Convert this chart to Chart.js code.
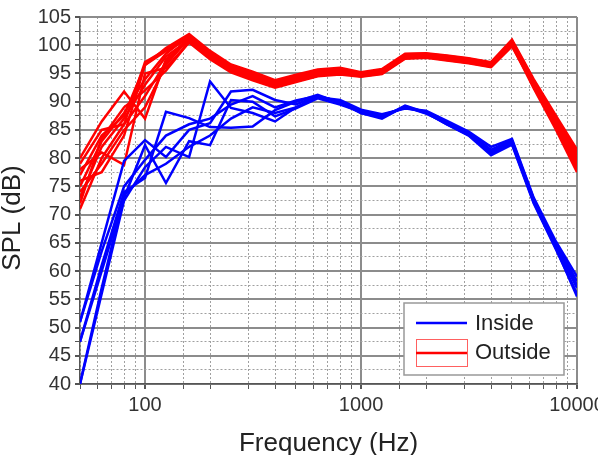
<!DOCTYPE html>
<html>
<head>
<meta charset="utf-8">
<script src="https://cdn.jsdelivr.net/npm/chart.js@4/dist/chart.umd.min.js"></script>
<style>
  body { margin: 0; background: #fff; }
  #wrap { width: 598px; height: 455px; }
</style>
</head>
<body>
<div id="wrap"><canvas id="spl" width="598" height="455"></canvas></div>
<script>
// third-octave band centres (Hz)
const freqs = [50, 63, 80, 100, 125, 160, 200, 250, 315, 400, 500, 630, 800, 1000, 1250, 1600, 2000, 2500, 3150, 4000, 5000, 6300, 8000, 10000];

// SPL inside, one row per run
const insideRuns = [
  [51, 65, 79.5, 83.2, 80.2, 85, 86.2, 91.8, 92.1, 90.3, 89.5, 91, 90, 88.3, 87.5, 89, 88.2, 86.3, 84.3, 81.2, 83, 72.5, 64.5, 57.5],
  [47.5, 61, 74, 76.5, 88.2, 87.1, 85.5, 85.4, 85.6, 88.5, 90, 91.2, 89.8, 88, 87, 89.2, 88, 86, 84, 80.5, 82.4, 72, 63.8, 56],
  [40, 56, 72.5, 78.4, 82, 80.2, 93.6, 88.9, 88, 86.5, 89, 90.8, 90.3, 88.6, 87.8, 88.8, 88.4, 86.6, 84.7, 82, 83.4, 73, 65.2, 59],
  [47.5, 60, 73, 82.3, 75.6, 83, 82.3, 90.3, 90, 87.4, 88.8, 90.6, 89.5, 88.2, 87.3, 89.1, 87.9, 86.2, 84.2, 80.8, 82.6, 72.2, 64, 55.5],
  [51, 63.5, 75, 79.7, 84, 86, 87, 89.5, 91, 89, 90.2, 91, 90, 88.4, 87.6, 88.9, 88.2, 86.4, 84.5, 81.5, 83.2, 72.8, 64.8, 58.2],
  [40, 57, 73.5, 77, 79, 82, 84, 87, 89, 88, 89, 90.8, 90.1, 88, 87.2, 89.3, 88.1, 86, 84.1, 81, 82.8, 72.4, 64.2, 57]
];

// SPL outside, one row per run
const outsideRuns = [
  [71, 80, 86, 91, 97, 101.5, 98.5, 96, 94.5, 93, 94, 95, 95.5, 94.8, 95.3, 98, 98.2, 97.8, 97.3, 96.5, 100.5, 93, 86, 78.5],
  [73, 82, 87, 93, 98, 101, 98, 95.5, 94, 92.8, 93.8, 94.8, 95, 94.5, 95, 97.8, 98, 97.5, 97, 96.3, 100.2, 93.2, 86.5, 79.5],
  [75, 83, 88, 94, 98.5, 101.8, 98.8, 96.3, 95, 93.5, 94.5, 95.5, 95.8, 95, 95.6, 98.3, 98.4, 98, 97.5, 96.8, 100.8, 93.8, 87, 80],
  [77, 84, 87.5, 96.5, 99, 101.2, 98.2, 95.8, 94.3, 93.2, 94.2, 95.2, 95.2, 94.7, 95.2, 98.1, 98.1, 97.7, 97.2, 96.6, 100.4, 92.6, 85.5, 78],
  [80, 86.5, 91.8, 87, 97.5, 100.8, 97.8, 95.5, 94, 92.6, 93.6, 94.6, 95.6, 94.6, 95.1, 97.7, 97.9, 97.4, 96.9, 96.2, 100, 92.4, 85, 77.5],
  [78, 81, 78.8, 95, 96, 100.5, 97.5, 95.2, 93.8, 92.5, 93.5, 94.5, 94.8, 94.4, 94.9, 97.6, 97.8, 97.3, 96.8, 96.1, 99.8, 92.8, 86, 79],
  [76, 77.5, 84, 96.5, 99.5, 102, 99, 96.6, 95.3, 93.8, 94.8, 95.7, 96, 95.2, 95.8, 98.5, 98.6, 98.2, 97.7, 97, 101, 94, 87.5, 81.5],
  [74, 79, 85, 89, 96.5, 101.3, 98.4, 96.1, 94.7, 93.3, 94.3, 95.3, 95.3, 94.9, 95.4, 98.2, 98.3, 97.9, 97.4, 96.7, 100.6, 93.5, 86.8, 80.5],
  [72, 83.5, 89, 92, 95.5, 100.6, 97.7, 95.6, 94.2, 93, 94, 95.1, 95.1, 94.6, 95.2, 97.9, 98, 97.6, 97.1, 96.4, 100.3, 93.1, 86.2, 79.2],
  [79, 85, 86, 97, 99.2, 101.6, 98.6, 96.2, 94.8, 93.6, 94.6, 95.4, 95.7, 95.1, 95.5, 98.4, 98.5, 98.1, 97.6, 96.9, 100.7, 93.6, 87.2, 81]
];

const xTickLabels = [100, 1000, 10000];

const toPoints = row => row.map((v, i) => ({x: freqs[i], y: v}));

const datasets = [];
insideRuns.forEach(r => datasets.push({
  label: 'Inside', data: toPoints(r),
  borderColor: '#0000ff', borderWidth: 2.5, pointRadius: 0, tension: 0
}));
outsideRuns.forEach(r => datasets.push({
  label: 'Outside', data: toPoints(r),
  borderColor: '#ff0000', borderWidth: 2.5, pointRadius: 0, tension: 0
}));

const isDecade = v => xTickLabels.includes(v);
const FONT = '"Liberation Sans", Arial, sans-serif';

// legend box inside the plot (bottom right) + y title sitting a bit low like the original
const boxLegend = {
  id: 'boxLegend',
  afterDraw(chart) {
    const c = chart.ctx;
    const a = chart.chartArea;
    const x = a.right - 173, y = a.bottom - 81, w = 160, h = 72;
    c.save();
    c.fillStyle = '#fff';
    c.fillRect(x, y, w, h);
    c.strokeStyle = '#999';
    c.lineWidth = 1.5;
    c.strokeRect(x, y, w, h);
    // inside sample
    c.strokeStyle = '#0000ff';
    c.lineWidth = 2.5;
    c.beginPath(); c.moveTo(x + 12, y + 20); c.lineTo(x + 63, y + 20); c.stroke();
    // outside sample
    c.strokeStyle = '#ff6060';
    c.lineWidth = 1;
    c.strokeRect(x + 12.5, y + 36.5, 51, 27);
    c.strokeStyle = '#ff0000';
    c.lineWidth = 2.5;
    c.beginPath(); c.moveTo(x + 12, y + 50); c.lineTo(x + 63, y + 50); c.stroke();
    c.fillStyle = '#222';
    c.font = '22px ' + FONT;
    c.textBaseline = 'middle';
    c.fillText('Inside', x + 71, y + 21);
    c.fillText('Outside', x + 71, y + 50);

    c.translate(13, 218);
    c.rotate(-Math.PI / 2);
    c.textAlign = 'center';
    c.font = '26px ' + FONT;
    c.fillText('SPL (dB)', 0, 0);
    c.restore();
  }
};

new Chart(document.getElementById('spl'), {
  type: 'line',
  data: {datasets: datasets},
  plugins: [boxLegend],
  options: {
    responsive: false,
    animation: false,
    layout: {padding: {top: 17, right: 21, left: 0, bottom: 0}},
    plugins: {legend: {display: false}, tooltip: {enabled: false}},
    scales: {
      x: {
        type: 'logarithmic',
        min: 50, max: 10000,
        afterFit(s) { s.height = 71; s.paddingRight = 0; s.paddingLeft = 0; },
        title: {display: true, text: 'Frequency (Hz)', color: '#222',
                font: {family: FONT, size: 26}, padding: {top: 0, bottom: -4}},
        ticks: {
          autoSkip: false, maxRotation: 0, color: '#333', padding: 4,
          font: {family: FONT, size: 20},
          callback: v => isDecade(v) ? String(v) : ''
        },
        grid: {
          color: ctx => ctx.tick && isDecade(ctx.tick.value) ? '#8c8c8c' : '#a0a0a0',
          lineWidth: ctx => ctx.tick && isDecade(ctx.tick.value) ? 2 : 1,
          tickColor: '#555', tickLength: 5
        },
        border: {color: '#555', width: 1.5,
                 dash: ctx => ctx.tick && isDecade(ctx.tick.value) ? [] : [2, 2]}
      },
      y: {
        min: 40, max: 105,
        afterFit(s) { s.width = 80; },
        ticks: {
          stepSize: 2.5, autoSkip: false, color: '#333', padding: 4,
          font: {family: FONT, size: 20},
          callback: v => v % 5 === 0 ? String(v) : ''
        },
        grid: {
          color: ctx => ctx.tick && ctx.tick.value % 5 === 0 ? '#8c8c8c' : '#a0a0a0',
          lineWidth: ctx => ctx.tick && ctx.tick.value % 5 === 0 ? 2 : 1,
          tickColor: '#555', tickLength: 5
        },
        border: {color: '#555', width: 1.5,
                 dash: ctx => ctx.tick && ctx.tick.value % 5 === 0 ? [] : [2, 2]}
      }
    }
  }
});
</script>
</body>
</html>
